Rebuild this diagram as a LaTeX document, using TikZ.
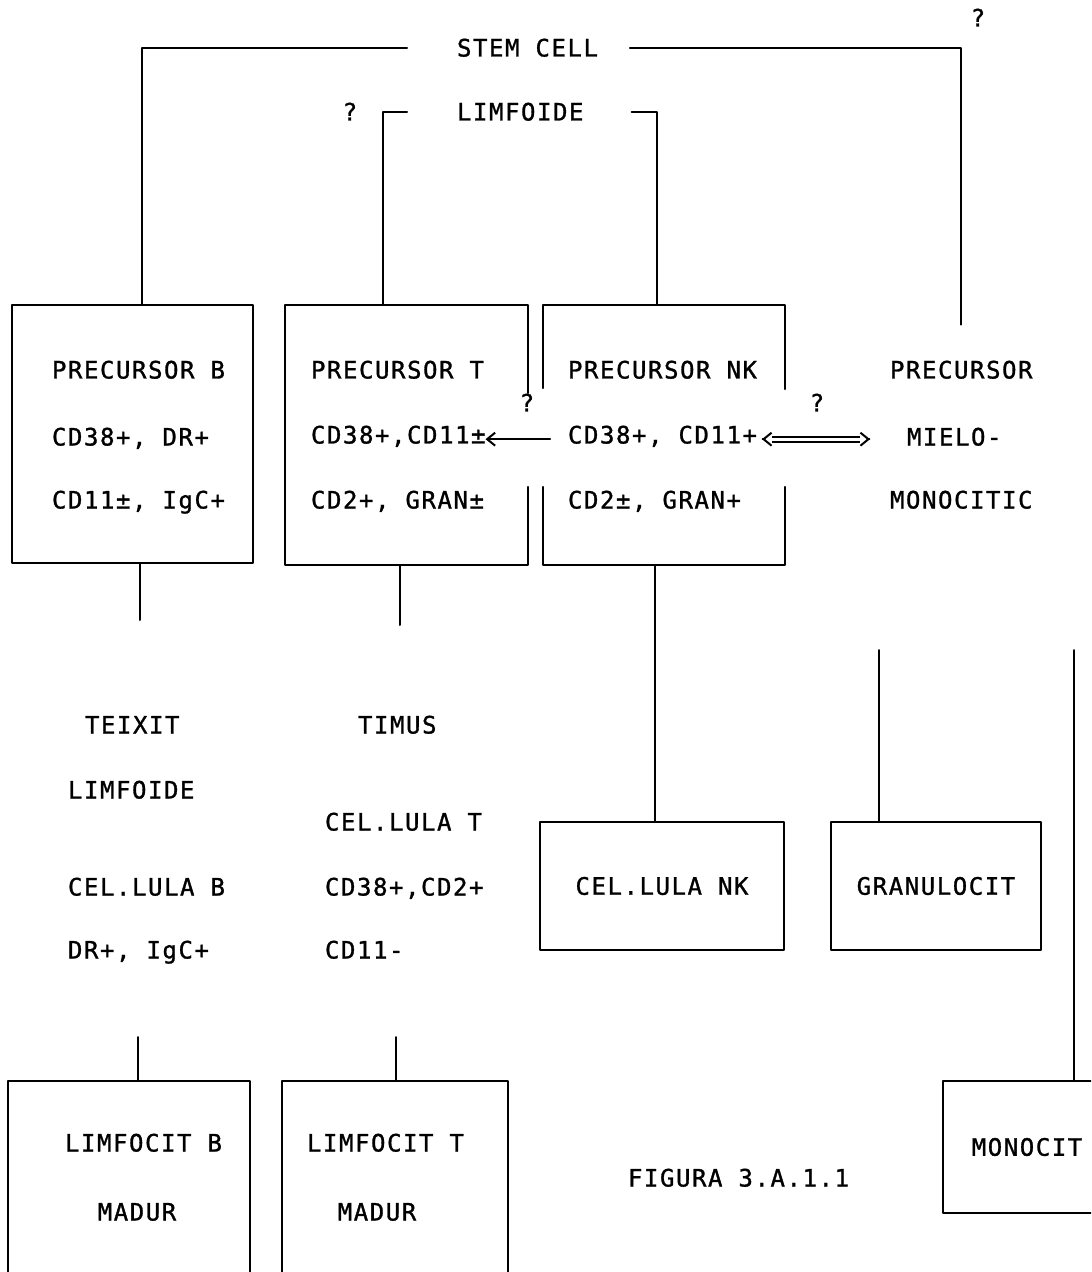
\documentclass[tikz,border=0pt]{standalone}
\usepackage{fontspec}
\newfontfamily\plotter{DejaVu Sans Mono}[LetterSpace=6.5, FakeBold=1.2]
\usetikzlibrary{arrows.meta}

\begin{document}
\begin{tikzpicture}[line join=round, line cap=round, line width=1pt, x=0.5pt, y=-0.5pt,
	>={Straight Barb[length=4pt,width=6.5pt]},
	txt/.style={inner sep=0pt, outer sep=0pt, anchor=base west, font=\plotter\fontsize{12}{13}\selectfont},
	ctxt/.style={txt, anchor=base},
	caixa/.style={draw, line width=1.1pt, inner sep=0pt, outer sep=0pt, font=\plotter\fontsize{12}{13}\selectfont},
	buida/.style={inner sep=0pt, outer sep=0pt},
	doble/.style={line width=1.1pt, double, double distance=1.4pt, line cap=butt}]
	\path[use as bounding box, clip] (0,0) rectangle (1091,1272);
	
	% 1. Stem cell i limfoide
	\node[txt] (stem) at (457,56.5) {STEM CELL};
	\node[txt] (limf) at (457,120.5) {LIMFOIDE};
	\node[ctxt] (q1) at (978,26.5) {?};
	\node[ctxt] (q2) at (350,120.5) {?};
	
	% 2. Caixes dels precursors
	\node[caixa, minimum width=120.5pt, minimum height=129pt] (pB) at (132.5,434) {};
	\node[buida, minimum width=121.5pt, minimum height=130pt] (pT) at (406.5,435) {};
	\node[buida, minimum width=121pt, minimum height=130pt] (pNK) at (664,435) {};
	% vores amb obertura per a les fletxes
	\draw[line width=1.1pt] ([yshift=-44pt]pT.north east) -- (pT.north east) -- (pT.north west)
		-- (pT.south west) -- (pT.south east) -- ([yshift=39pt]pT.south east);
	\draw[line width=1.1pt] ([yshift=-41.5pt]pNK.north west) -- (pNK.north west)
		-- (pNK.north east) -- ([yshift=-42pt]pNK.north east);
	\draw[line width=1.1pt] ([yshift=39pt]pNK.south west) -- (pNK.south west)
		-- (pNK.south east) -- ([yshift=39pt]pNK.south east);
	
	\node[txt] (b1) at (52,378.5) {PRECURSOR B};
	\node[txt] (b2) at (52,445.5) {CD38+, DR+};
	\node[txt] (b3) at (52,508.5) {CD11±, IgC+};
	\node[txt] (t1) at (311,378.5) {PRECURSOR T};
	\node[txt] (t2) at (311,443.5) {CD38+,CD11±};
	\node[txt] (t3) at (311,508.5) {CD2+, GRAN±};
	\node[txt] (k1) at (568,378.5) {PRECURSOR NK};
	\node[txt] (k2) at (568,443.5) {CD38+, CD11+};
	\node[txt] (k3) at (568,508.5) {CD2±, GRAN+};
	\node[txt] (m1) at (890,378.5) {PRECURSOR};
	\node[txt] (m2) at (907,445.5) {MIELO-};
	\node[txt] (m3) at (890,508.5) {MONOCITIC};
	\node[ctxt] (q3) at (527,411.5) {?};
	\node[ctxt] (q4) at (817,411.5) {?};
	
	% 3. Fletxes entre precursors
	\draw[->, shorten <=9pt] (k2.mid west) -- (t2.mid east);
	\coordinate (dA) at ([xshift=2.5pt]k2.mid east);
	\coordinate (dM) at ([xshift=-18.5pt]m2.mid west);
	\coordinate (dB) at (dM |- dA);
	\draw[doble] ([xshift=5pt]dA) -- ([xshift=-5pt]dB);
	\draw[->] ([xshift=0.3pt]dA) -- (dA);
	\draw[->] ([xshift=-0.3pt]dB) -- (dB);
	
	% 4. Teixit limfoide i timus
	\node[txt] (bx1) at (85,733.5) {TEIXIT};
	\node[txt] (bx2) at (68,798.5) {LIMFOIDE};
	\node[txt] (bx3) at (68,895.5) {CEL.LULA B};
	\node[txt] (bx4) at (68,958.5) {DR+, IgC+};
	\node[txt] (tx1) at (358,733.5) {TIMUS};
	\node[txt] (tx2) at (325,830.5) {CEL.LULA T};
	\node[txt] (tx3) at (325,895.5) {CD38+,CD2+};
	\node[txt] (tx4) at (325,958.5) {CD11-};
	
	% 5. Cel.lules finals
	\node[caixa, minimum width=122pt, minimum height=64pt] (lNK) at (662,886) {CEL.LULA NK};
	\node[caixa, minimum width=105pt, minimum height=64pt] (gran) at (936,886) {GRANULOCIT};
	\node[caixa, minimum width=84pt, minimum height=66pt] (mono) at (1027,1147) {MONOCIT};
	\node[caixa, minimum width=121pt, minimum height=109.5pt] (mB) at (129,1190.5) {};
	\node[caixa, minimum width=113pt, minimum height=109.5pt] (mT) at (395,1190.5) {};
	\node[txt] (mb1) at (65,1151.5) {LIMFOCIT B};
	\node[ctxt] (mb2) at (137,1220.5) {MADUR};
	\node[txt] (mt1) at (307,1151.5) {LIMFOCIT T};
	\node[ctxt] (mt2) at (377,1220.5) {MADUR};
	\node[txt] (fig) at (628,1186.5) {FIGURA 3.A.1.1};
	
	% 6. Branques
	\draw ([xshift=-25pt]stem.west) -| ([xshift=4.75pt]pB.north);
	\draw ([xshift=16pt]stem.east) -| ([yshift=18pt]m1.north);
	\draw ([xshift=-25pt]limf.west) -| ([xshift=-11.75pt]pT.north);
	\draw ([xshift=24pt]limf.east) -| ([xshift=-3.5pt]pNK.north);
	\draw ([xshift=3.75pt]pB.south) -- +(0,57);
	\draw ([xshift=-3.25pt]pT.south) -- +(0,60);
	\draw ([xshift=-4.5pt]pNK.south) -- ([xshift=-3.5pt]lNK.north);
	\coordinate (gTop) at (879,650);
	\coordinate (mTop) at (1074,650);
	\coordinate (bTop) at (138,1037);
	\coordinate (tTop) at (396,1037);
	\draw (gTop) -- (gTop |- gran.north);
	\draw (mTop) -- (mTop |- mono.north);
	\draw (bTop) -- (bTop |- mB.north);
	\draw (tTop) -- (tTop |- mT.north);
\end{tikzpicture}
\end{document}
